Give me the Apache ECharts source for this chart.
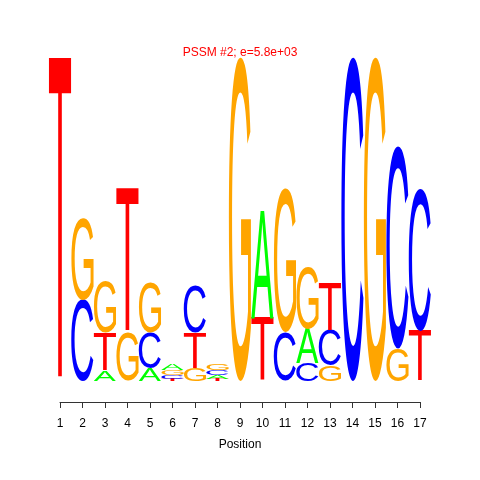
<!DOCTYPE html>
<html>
<head>
<meta charset="utf-8">
<script src="https://cdn.jsdelivr.net/npm/echarts@6/dist/echarts.min.js"></script>
<style>html,body{margin:0;padding:0;background:#fff}#c{width:480px;height:480px}</style>
</head>
<body>
<div id="c"></div>
<script>
// Sequence logo data (heights in bits)
const positions = [1, 2, 3, 4, 5, 6, 7, 8, 9, 10, 11, 12, 13, 14, 15, 16, 17];
const tickLabels = ['1','2','3','4','5','6','7','8','9','10','11','12','13','14','15','16','17'];
const heightA = [0, 0, 0.062, 0, 0.08, 0.037, 0, 0.025, 0, 0.667, 0, 0.21, 0, 0, 0, 0, 0];
const heightC = [0, 0.50, 0, 0, 0.216, 0.025, 0.296, 0.031, 0, 0, 0.30, 0.11, 0.216, 2.0, 0, 1.25, 0.88];
const heightG = [0, 0.506, 0.315, 0.30, 0.31, 0.031, 0.08, 0.037, 2.0, 0, 0.89, 0.38, 0.093, 0, 2.0, 0.20, 0];
const heightT = [2.0, 0, 0.235, 0.89, 0, 0.012, 0.216, 0.012, 0, 0.39, 0, 0, 0.296, 0, 0, 0, 0.31];
const letters = ['A', 'C', 'G', 'T'];
const letterColors = ['#00FF00', '#0000FF', '#FFA500', '#FF0000'];
const titleText = 'PSSM #2; e=5.8e+03';
const axisName = 'Position';

const FONT = '100px "Liberation Sans", Arial, Helvetica, sans-serif';
const COLW = 0.99;

// measure ink boxes of each glyph relative to (left, middle) anchor
const cv = document.createElement('canvas');
const ctx = cv.getContext('2d');
ctx.font = FONT;
ctx.textAlign = 'left';
ctx.textBaseline = 'middle';
const fallback = {
  A: {left: -0.5, right: 66.5, ascent: 35, descent: 34},
  C: {left: -4.5, right: 68.5, ascent: 36, descent: 35},
  G: {left: -4.5, right: 73, ascent: 36, descent: 35},
  T: {left: -2, right: 59, ascent: 35, descent: 34}
};
const metrics = letters.map(function (ch) {
  const m = ctx.measureText(ch);
  if (m.actualBoundingBoxAscent === undefined) return fallback[ch];
  return {
    left: m.actualBoundingBoxLeft,
    right: m.actualBoundingBoxRight,
    ascent: m.actualBoundingBoxAscent,
    descent: m.actualBoundingBoxDescent
  };
});

// Build stacked letter boxes: smallest at the bottom
const heights = [heightA, heightC, heightG, heightT];
const data = [];
positions.forEach(function (p, i) {
  const items = [0, 1, 2, 3].map(function (li) { return {li: li, h: heights[li][i]}; })
    .filter(function (d) { return d.h > 0; })
    .sort(function (a, b) { return a.h - b.h; });
  let base = 0;
  items.forEach(function (d) {
    data.push([p, base, base + d.h, d.li]);
    base += d.h;
  });
});

function renderItem(params, api) {
  const pos = api.value(0), y0 = api.value(1), y1 = api.value(2), li = api.value(3);
  const pL = api.coord([pos - COLW / 2, y0]);
  const pR = api.coord([pos + COLW / 2, y1]);
  const X0 = pL[0], X1 = pR[0], Ybot = pL[1], Ytop = pR[1];
  const m = metrics[li];
  const sx = (X1 - X0) / (m.left + m.right);
  const sy = (Ybot - Ytop) / (m.ascent + m.descent);
  return {
    type: 'text',
    x: X0 + m.left * sx,
    y: Ytop + m.ascent * sy,
    scaleX: sx,
    scaleY: sy,
    style: {
      text: letters[li],
      font: FONT,
      fill: letterColors[li],
      align: 'left',
      verticalAlign: 'middle'
    }
  };
}

const chart = echarts.init(document.getElementById('c'), null, {renderer: 'canvas'});
chart.setOption({
  animation: false,
  backgroundColor: '#fff',
  title: {
    text: titleText,
    left: 'center',
    top: 47,
    padding: 0,
    textStyle: {color: '#FF0000', fontSize: 12, fontWeight: 'normal', fontFamily: '"Liberation Sans", Arial, sans-serif'}
  },
  grid: {left: 60, right: 60, top: 57, bottom: 99, containLabel: false},
  xAxis: {
    type: 'value',
    min: 1, max: 17, interval: 1,
    offset: 21,
    name: axisName,
    nameLocation: 'middle',
    nameGap: 37,
    nameTextStyle: {color: '#000', fontSize: 12, fontFamily: '"Liberation Sans", Arial, sans-serif'},
    axisLine: {show: true, onZero: false, lineStyle: {color: '#333', width: 1}},
    axisTick: {show: true, length: 6, lineStyle: {color: '#333', width: 1}},
    axisLabel: {
      margin: 16, color: '#000', fontSize: 12, fontFamily: '"Liberation Sans", Arial, sans-serif',
      formatter: function (v) { return tickLabels[Math.round(v) - 1] || ''; }
    },
    splitLine: {show: false}
  },
  yAxis: {
    type: 'value', min: 0, max: 2, show: false,
    splitLine: {show: false}
  },
  series: [{
    type: 'custom',
    renderItem: renderItem,
    encode: {x: 0, y: [1, 2]},
    data: data,
    clip: false
  }]
});
</script>
</body>
</html>
